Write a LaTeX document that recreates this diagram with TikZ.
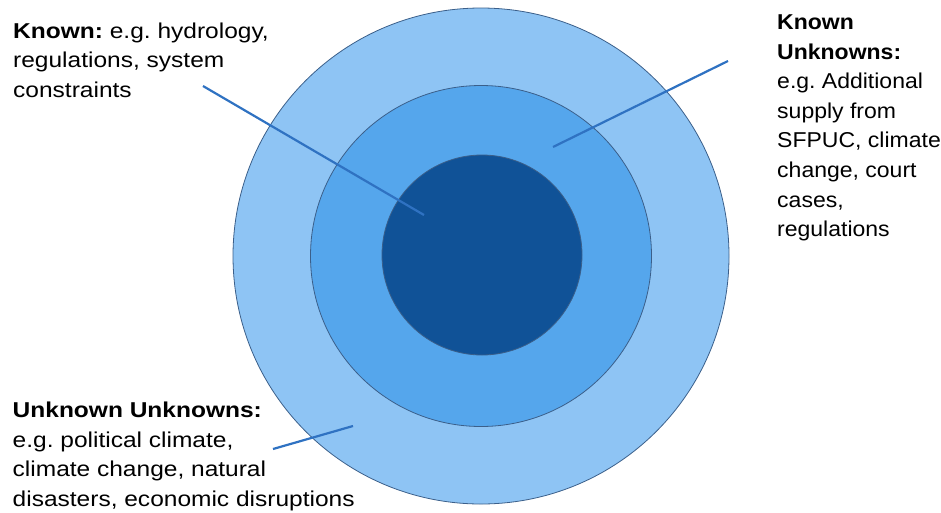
\documentclass[tikz,border=0pt]{standalone}
\usepackage{fontspec}
\setmainfont{Liberation Sans}[FakeStretch=1.14]
\newfontfamily\narrowfont{Liberation Sans}[FakeStretch=1.07]
\definecolor{outerblue}{HTML}{8EC4F4}
\definecolor{midblue}{HTML}{55A6EC}
\definecolor{innerblue}{HTML}{105297}
\definecolor{ringedge}{HTML}{3B5F8A}
\definecolor{pointerblue}{HTML}{2F72C2}
\newcommand\notefont{\fontsize{21.5}{29.6}\selectfont\frenchspacing}
\def\ringcenter{(481,256)}
\tikzset{
  ring/.style={circle, draw=ringedge, line width=0.8pt, inner sep=0pt},
  note/.style={anchor=north west, align=left, inner sep=0pt, font=\notefont},
  pointer/.style={draw=pointerblue, line width=2.2pt},
}

\begin{document}
\begin{tikzpicture}[x=1pt,y=-1pt]
  \useasboundingbox (0,0) rectangle (941,512);
  \node[ring, fill=outerblue, minimum size=496pt] (outer) at \ringcenter {};
  \node[ring, fill=midblue, minimum size=341pt] (middle) at \ringcenter {};
  \node[ring, fill=innerblue, minimum size=200pt] (inner) at (482,255) {};

  \node[note] (known) at (13,22.5) {\textbf{Known:} e.g. hydrology,\\regulations, system\\constraints};
  \node[note, font=\notefont\narrowfont] (knownunk) at (777,14.5) {\textbf{Known}\\\textbf{Unknowns:}\\e.g. Additional\\supply from\\SFPUC, climate\\change, court\\cases,\\regulations};
  \node[note] (unkunk) at (12.5,402) {\textbf{Unknown Unknowns:}\\e.g. political climate,\\climate change, natural\\disasters, economic disruptions};

  \coordinate (knowntail) at (203,86);
  \coordinate (knowntip) at (424,215);
  \coordinate (knownunktail) at (728,61);
  \coordinate (knownunktip) at (553,147);
  \coordinate (unkunktail) at (273,449);
  \coordinate (unkunktip) at (353,426);
  \draw[pointer] (knowntail) -- (knowntip);
  \draw[pointer] (knownunktail) -- (knownunktip);
  \draw[pointer] (unkunktail) -- (unkunktip);
\end{tikzpicture}
\end{document}
